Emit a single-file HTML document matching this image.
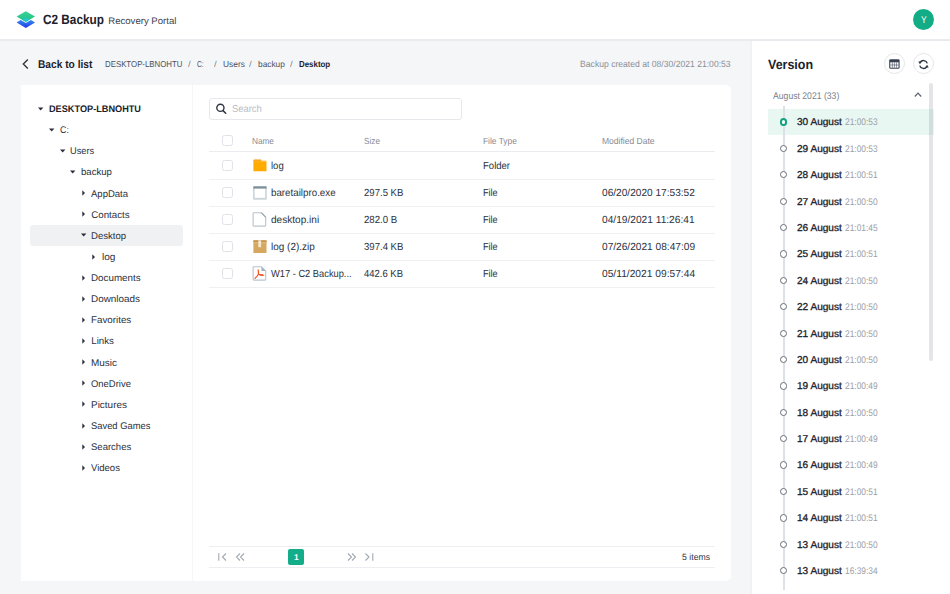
<!DOCTYPE html>
<html><head><meta charset="utf-8"><title>C2 Backup Recovery Portal</title>
<style>
html,body{margin:0;padding:0;}
body{width:950px;height:594px;position:relative;overflow:hidden;background:#f5f6f8;font-family:"Liberation Sans",Arial,sans-serif;text-rendering:geometricPrecision;}
.t{position:absolute;line-height:1;white-space:nowrap;}
.b{position:absolute;}
</style></head><body>
<div class="b" style="left:0px;top:0px;width:950px;height:39px;background:#fff"></div>
<div class="b" style="left:0px;top:39px;width:950px;height:2px;background:#e9ebef"></div>
<svg class="b" style="left:12px;top:6px;" width="28" height="26" viewBox="0 0 28 26">
<defs><linearGradient id="lg1" x1="0" y1="0" x2="0" y2="1"><stop offset="0" stop-color="#3ab4f2"/><stop offset="1" stop-color="#2233e4"/></linearGradient>
<linearGradient id="lg2" x1="0" y1="0" x2="0" y2="1"><stop offset="0" stop-color="#3bd293"/><stop offset="1" stop-color="#1fbf86"/></linearGradient></defs>
<path d="M4.6 16.4 L13.8 10.8 L23 16.4 L13.8 22.1 Z" fill="url(#lg1)"/>
<path d="M4.6 10.5 L13.8 5.2 L23 10.5 L13.8 16 Z" fill="url(#lg2)" stroke="#fff" stroke-width="1.6" stroke-linejoin="round" paint-order="stroke"/>
<path d="M10.2 13.7 L13.8 11 L17.4 13.7 L13.8 16 Z" fill="#27c6c6"/>
</svg>
<div class="t" style="top:13px;font-size:13.43px;color:#1c212b;font-weight:700;transform:scaleX(0.8786);transform-origin:left center;left:42.60px;">C2 Backup</div>
<div class="t" style="top:17px;font-size:9.57px;color:#3c4250;left:108.30px;">Recovery Portal</div>
<div class="b" style="left:913.1px;top:9.1px;width:21.1px;height:21.1px;background:#12ac86;border-radius:50%"></div>
<div class="t" style="top:16px;font-size:10.0px;color:#fff;transform:scaleX(0.8600);transform-origin:left center;left:920.50px;">Y</div>
<div class="b" style="left:0px;top:41px;width:752px;height:553px;background:#f5f6f8"></div>
<svg class="b" style="left:21px;top:58px;" width="10" height="12" viewBox="0 0 10 12"><path d="M6.8 1.5 L2.3 6 L6.8 10.5" fill="none" stroke="#2a2f3a" stroke-width="1.3"/></svg>
<div class="t" style="top:60px;font-size:11.29px;color:#1c212b;font-weight:700;transform:scaleX(0.9033);transform-origin:left center;left:37.70px;">Back to list</div>
<div class="t" style="top:60px;font-size:8.57px;color:#4a505c;transform:scaleX(0.9165);transform-origin:left center;left:105.00px;">DESKTOP-LBNOHTU</div>
<div class="t" style="top:60px;font-size:8.57px;color:#7d828b;transform:scaleX(1.1333);transform-origin:left center;left:187.60px;">/</div>
<div class="t" style="top:60px;font-size:8.57px;color:#4a505c;transform:scaleX(0.7875);transform-origin:left center;left:197.30px;">C:</div>
<div class="t" style="top:60px;font-size:8.57px;color:#7d828b;transform:scaleX(1.1333);transform-origin:left center;left:214.00px;">/</div>
<div class="t" style="top:60px;font-size:8.57px;color:#4a505c;transform:scaleX(0.9773);transform-origin:left center;left:223.00px;">Users</div>
<div class="t" style="top:60px;font-size:8.57px;color:#7d828b;transform:scaleX(1.1333);transform-origin:left center;left:249.30px;">/</div>
<div class="t" style="top:60px;font-size:8.57px;color:#4a505c;transform:scaleX(0.9714);transform-origin:left center;left:258.00px;">backup</div>
<div class="t" style="top:60px;font-size:8.57px;color:#7d828b;transform:scaleX(1.1333);transform-origin:left center;left:290.40px;">/</div>
<div class="t" style="top:60px;font-size:8.57px;color:#1c212b;font-weight:700;transform:scaleX(0.9235);transform-origin:left center;left:299.00px;">Desktop</div>
<div class="t" style="top:60px;font-size:9.0px;color:#8a8f99;transform:scaleX(0.9551);transform-origin:right center;right:219.30px;">Backup created at 08/30/2021 21:00:53</div>
<div class="b" style="left:20.7px;top:85px;width:710.3px;height:495.7px;background:#fff;border-radius:0 5px 5px 0"></div>
<div class="b" style="left:192.2px;top:85px;width:1px;height:496px;background:#f4f5f7"></div>
<div class="b" style="left:30.4px;top:225.2px;width:153px;height:20.6px;background:#f0f1f3;border-radius:3px"></div>
<svg class="b" style="left:38.4px;top:106.64999999999999px;" width="6" height="4" viewBox="0 0 6 4"><path d="M0 0.6 L5.4 0.6 L2.7 3.4 Z" fill="#2a2f3a"/></svg>
<div class="t" style="top:105px;font-size:9.57px;color:#1c212b;font-weight:700;transform:scaleX(0.9583);transform-origin:left center;left:48.90px;">DESKTOP-LBNOHTU</div>
<svg class="b" style="left:49.0px;top:127.78px;" width="6" height="4" viewBox="0 0 6 4"><path d="M0 0.6 L5.4 0.6 L2.7 3.4 Z" fill="#2a2f3a"/></svg>
<div class="t" style="top:126px;font-size:9.71px;color:#2c313c;transform:scaleX(0.9111);transform-origin:left center;left:59.50px;">C:</div>
<svg class="b" style="left:59.599999999999994px;top:148.91px;" width="6" height="4" viewBox="0 0 6 4"><path d="M0 0.6 L5.4 0.6 L2.7 3.4 Z" fill="#2a2f3a"/></svg>
<div class="t" style="top:147px;font-size:9.71px;color:#2c313c;transform:scaleX(0.9500);transform-origin:left center;left:70.10px;">Users</div>
<svg class="b" style="left:70.19999999999999px;top:170.04px;" width="6" height="4" viewBox="0 0 6 4"><path d="M0 0.6 L5.4 0.6 L2.7 3.4 Z" fill="#2a2f3a"/></svg>
<div class="t" style="top:168px;font-size:9.71px;color:#2c313c;transform:scaleX(0.9875);transform-origin:left center;left:80.70px;">backup</div>
<svg class="b" style="left:81.8px;top:190.17px;" width="4" height="6" viewBox="0 0 4 6"><path d="M0.3 0.3 L3 3 L0.3 5.7 Z" fill="#2a2f3a"/></svg>
<div class="t" style="top:190px;font-size:9.71px;color:#2c313c;transform:scaleX(0.9816);transform-origin:left center;left:91.30px;">AppData</div>
<svg class="b" style="left:81.8px;top:211.29999999999998px;" width="4" height="6" viewBox="0 0 4 6"><path d="M0.3 0.3 L3 3 L0.3 5.7 Z" fill="#2a2f3a"/></svg>
<div class="t" style="top:211px;font-size:9.71px;color:#2c313c;left:91.30px;">Contacts</div>
<svg class="b" style="left:80.8px;top:233.42999999999998px;" width="6" height="4" viewBox="0 0 6 4"><path d="M0 0.6 L5.4 0.6 L2.7 3.4 Z" fill="#2a2f3a"/></svg>
<div class="t" style="top:232px;font-size:9.71px;color:#2c313c;transform:scaleX(0.9861);transform-origin:left center;left:91.30px;">Desktop</div>
<svg class="b" style="left:92.4px;top:253.56px;" width="4" height="6" viewBox="0 0 4 6"><path d="M0.3 0.3 L3 3 L0.3 5.7 Z" fill="#2a2f3a"/></svg>
<div class="t" style="top:253px;font-size:9.71px;color:#2c313c;transform:scaleX(1.0385);transform-origin:left center;left:101.90px;">log</div>
<svg class="b" style="left:81.8px;top:274.69px;" width="4" height="6" viewBox="0 0 4 6"><path d="M0.3 0.3 L3 3 L0.3 5.7 Z" fill="#2a2f3a"/></svg>
<div class="t" style="top:274px;font-size:9.71px;color:#2c313c;transform:scaleX(1.0102);transform-origin:left center;left:91.30px;">Documents</div>
<svg class="b" style="left:81.8px;top:295.82px;" width="4" height="6" viewBox="0 0 4 6"><path d="M0.3 0.3 L3 3 L0.3 5.7 Z" fill="#2a2f3a"/></svg>
<div class="t" style="top:295px;font-size:9.71px;color:#2c313c;transform:scaleX(1.0208);transform-origin:left center;left:91.30px;">Downloads</div>
<svg class="b" style="left:81.8px;top:316.95px;" width="4" height="6" viewBox="0 0 4 6"><path d="M0.3 0.3 L3 3 L0.3 5.7 Z" fill="#2a2f3a"/></svg>
<div class="t" style="top:316px;font-size:9.71px;color:#2c313c;transform:scaleX(1.0075);transform-origin:left center;left:91.30px;">Favorites</div>
<svg class="b" style="left:81.8px;top:338.08px;" width="4" height="6" viewBox="0 0 4 6"><path d="M0.3 0.3 L3 3 L0.3 5.7 Z" fill="#2a2f3a"/></svg>
<div class="t" style="top:337px;font-size:9.71px;color:#2c313c;left:91.30px;">Links</div>
<svg class="b" style="left:81.8px;top:359.21000000000004px;" width="4" height="6" viewBox="0 0 4 6"><path d="M0.3 0.3 L3 3 L0.3 5.7 Z" fill="#2a2f3a"/></svg>
<div class="t" style="top:359px;font-size:9.71px;color:#2c313c;transform:scaleX(1.0269);transform-origin:left center;left:91.30px;">Music</div>
<svg class="b" style="left:81.8px;top:380.34000000000003px;" width="4" height="6" viewBox="0 0 4 6"><path d="M0.3 0.3 L3 3 L0.3 5.7 Z" fill="#2a2f3a"/></svg>
<div class="t" style="top:380px;font-size:9.71px;color:#2c313c;transform:scaleX(0.9732);transform-origin:left center;left:91.30px;">OneDrive</div>
<svg class="b" style="left:81.8px;top:401.47px;" width="4" height="6" viewBox="0 0 4 6"><path d="M0.3 0.3 L3 3 L0.3 5.7 Z" fill="#2a2f3a"/></svg>
<div class="t" style="top:401px;font-size:9.71px;color:#2c313c;transform:scaleX(1.0257);transform-origin:left center;left:91.30px;">Pictures</div>
<svg class="b" style="left:81.8px;top:422.6px;" width="4" height="6" viewBox="0 0 4 6"><path d="M0.3 0.3 L3 3 L0.3 5.7 Z" fill="#2a2f3a"/></svg>
<div class="t" style="top:422px;font-size:9.71px;color:#2c313c;transform:scaleX(0.9661);transform-origin:left center;left:91.30px;">Saved Games</div>
<svg class="b" style="left:81.8px;top:443.73px;" width="4" height="6" viewBox="0 0 4 6"><path d="M0.3 0.3 L3 3 L0.3 5.7 Z" fill="#2a2f3a"/></svg>
<div class="t" style="top:443px;font-size:9.71px;color:#2c313c;transform:scaleX(0.9805);transform-origin:left center;left:91.30px;">Searches</div>
<svg class="b" style="left:81.8px;top:464.86px;" width="4" height="6" viewBox="0 0 4 6"><path d="M0.3 0.3 L3 3 L0.3 5.7 Z" fill="#2a2f3a"/></svg>
<div class="t" style="top:464px;font-size:9.71px;color:#2c313c;transform:scaleX(0.9800);transform-origin:left center;left:91.30px;">Videos</div>
<div class="b" style="left:209px;top:98px;width:253px;height:22px;border:1px solid #e6e8ec;border-radius:3px;box-sizing:border-box"></div>
<svg class="b" style="left:215px;top:103px;" width="13" height="13" viewBox="0 0 13 13"><circle cx="5.4" cy="4.8" r="3.6" fill="none" stroke="#2f3542" stroke-width="1.4"/><path d="M8 7.6 L10.7 10.3" stroke="#2f3542" stroke-width="1.5" stroke-linecap="round"/></svg>
<div class="t" style="top:105px;font-size:10.14px;color:#b9bdc4;transform:scaleX(0.9281);transform-origin:left center;left:232.30px;">Search</div>
<div class="b" style="left:222.3px;top:135.2px;width:10.4px;height:10.4px;border:1px solid #dfe2e7;border-radius:2.5px;box-sizing:border-box"></div>
<div class="t" style="top:137px;font-size:8.86px;color:#868b95;transform:scaleX(0.9292);transform-origin:left center;left:251.70px;">Name</div>
<div class="t" style="top:137px;font-size:8.86px;color:#868b95;transform:scaleX(0.9292);transform-origin:left center;left:364.00px;">Size</div>
<div class="t" style="top:137px;font-size:8.86px;color:#868b95;transform:scaleX(0.9472);transform-origin:left center;left:482.70px;">File Type</div>
<div class="t" style="top:137px;font-size:8.86px;color:#868b95;transform:scaleX(0.9636);transform-origin:left center;left:602.10px;">Modified Date</div>
<div class="b" style="left:209px;top:151.3px;width:506px;height:1.2px;background:#eaecef"></div>
<div class="b" style="left:222.3px;top:160.3px;width:10.4px;height:10.4px;border:1px solid #dfe2e7;border-radius:2.5px;box-sizing:border-box"></div>
<div class="t" style="top:162px;font-size:10.29px;color:#2c313c;transform:scaleX(0.9286);transform-origin:left center;left:271.30px;">log</div>
<div class="t" style="top:162px;font-size:10.29px;color:#2c313c;transform:scaleX(0.9276);transform-origin:left center;left:483.30px;">Folder</div>
<div class="b" style="left:209px;top:178.9px;width:506px;height:1px;background:#eef0f2"></div>
<svg class="b" style="left:252.5px;top:159.2px;" width="14" height="13" viewBox="0 0 14 13"><rect x="0.5" y="0.5" width="7.9" height="2.6" rx="0.7" fill="#ff9100"/><rect x="0.4" y="1.6" width="13.1" height="1.2" fill="#ffc04d"/><rect x="0.4" y="2.4" width="13.1" height="9.9" rx="0.6" fill="#ffab00"/></svg>
<div class="b" style="left:222.3px;top:187.3px;width:10.4px;height:10.4px;border:1px solid #dfe2e7;border-radius:2.5px;box-sizing:border-box"></div>
<div class="t" style="top:189px;font-size:10.29px;color:#2c313c;transform:scaleX(0.9500);transform-origin:left center;left:271.30px;">baretailpro.exe</div>
<div class="t" style="top:189px;font-size:10.29px;color:#2c313c;transform:scaleX(0.9310);transform-origin:left center;left:364.40px;">297.5 KB</div>
<div class="t" style="top:189px;font-size:10.29px;color:#2c313c;transform:scaleX(0.8824);transform-origin:left center;left:483.30px;">File</div>
<div class="t" style="top:189px;font-size:10.29px;color:#2c313c;transform:scaleX(0.9840);transform-origin:left center;left:602.00px;">06/20/2020 17:53:52</div>
<div class="b" style="left:209px;top:205.9px;width:506px;height:1px;background:#eef0f2"></div>
<svg class="b" style="left:252.5px;top:185.7px;" width="14" height="14" viewBox="0 0 14 14"><rect x="0.9" y="0.9" width="12.1" height="12" fill="#fff" stroke="#b3c0c8" stroke-width="1.1"/><rect x="0.4" y="0.4" width="13.1" height="2.2" fill="#7c8f9b"/><rect x="0.4" y="11.8" width="13.1" height="1.4" fill="#cdd6db"/></svg>
<div class="b" style="left:222.3px;top:214.3px;width:10.4px;height:10.4px;border:1px solid #dfe2e7;border-radius:2.5px;box-sizing:border-box"></div>
<div class="t" style="top:216px;font-size:10.29px;color:#2c313c;transform:scaleX(0.9796);transform-origin:left center;left:271.30px;">desktop.ini</div>
<div class="t" style="top:216px;font-size:10.29px;color:#2c313c;transform:scaleX(0.9400);transform-origin:left center;left:364.40px;">282.0 B</div>
<div class="t" style="top:216px;font-size:10.29px;color:#2c313c;transform:scaleX(0.8824);transform-origin:left center;left:483.30px;">File</div>
<div class="t" style="top:216px;font-size:10.29px;color:#2c313c;transform:scaleX(0.9892);transform-origin:left center;left:602.00px;">04/19/2021 11:26:41</div>
<div class="b" style="left:209px;top:232.9px;width:506px;height:1px;background:#eef0f2"></div>
<svg class="b" style="left:252px;top:212.3px;" width="15" height="15" viewBox="0 0 15 15"><path d="M1.1 1.6 Q1.1 0.7 2 0.7 L9.3 0.7 L13.7 5.1 L13.7 13.3 Q13.7 14.1 12.9 14.1 L2 14.1 Q1.1 14.1 1.1 13.3 Z" fill="#fff" stroke="#b7c3cb" stroke-width="1.1"/><path d="M9.3 0.7 L13.7 5.1" stroke="#9aa9b3" stroke-width="1.2"/></svg>
<div class="b" style="left:222.3px;top:241.3px;width:10.4px;height:10.4px;border:1px solid #dfe2e7;border-radius:2.5px;box-sizing:border-box"></div>
<div class="t" style="top:243px;font-size:10.29px;color:#2c313c;transform:scaleX(0.9689);transform-origin:left center;left:271.30px;">log (2).zip</div>
<div class="t" style="top:243px;font-size:10.29px;color:#2c313c;transform:scaleX(0.9310);transform-origin:left center;left:364.40px;">397.4 KB</div>
<div class="t" style="top:243px;font-size:10.29px;color:#2c313c;transform:scaleX(0.8824);transform-origin:left center;left:483.30px;">File</div>
<div class="t" style="top:243px;font-size:10.29px;color:#2c313c;transform:scaleX(0.9862);transform-origin:left center;left:602.00px;">07/26/2021 08:47:09</div>
<div class="b" style="left:209px;top:259.90000000000003px;width:506px;height:1px;background:#eef0f2"></div>
<svg class="b" style="left:252.5px;top:239.8px;" width="14" height="14" viewBox="0 0 14 14"><rect x="0.4" y="0.4" width="13.1" height="12.6" fill="#d6a75f"/><rect x="0.4" y="0.4" width="13.1" height="1.9" fill="#c48f47"/><rect x="0.4" y="2.3" width="13.1" height="0.8" fill="#e6c28a"/><rect x="5.3" y="0.4" width="2.8" height="6.8" fill="#f6e8d2"/></svg>
<div class="b" style="left:222.3px;top:268.3px;width:10.4px;height:10.4px;border:1px solid #dfe2e7;border-radius:2.5px;box-sizing:border-box"></div>
<div class="t" style="top:270px;font-size:10.29px;color:#2c313c;transform:scaleX(0.9045);transform-origin:left center;left:271.30px;">W17 - C2 Backup...</div>
<div class="t" style="top:270px;font-size:10.29px;color:#2c313c;transform:scaleX(0.9214);transform-origin:left center;left:364.40px;">442.6 KB</div>
<div class="t" style="top:270px;font-size:10.29px;color:#2c313c;transform:scaleX(0.8824);transform-origin:left center;left:483.30px;">File</div>
<div class="t" style="top:270px;font-size:10.29px;color:#2c313c;transform:scaleX(0.9946);transform-origin:left center;left:602.00px;">05/11/2021 09:57:44</div>
<div class="b" style="left:209px;top:286.90000000000003px;width:506px;height:1px;background:#eef0f2"></div>
<svg class="b" style="left:252px;top:266.3px;" width="15" height="15" viewBox="0 0 15 15"><path d="M1.1 1.6 Q1.1 0.7 2 0.7 L9.3 0.7 L13.7 5.1 L13.7 13.3 Q13.7 14.1 12.9 14.1 L2 14.1 Q1.1 14.1 1.1 13.3 Z" fill="#fff" stroke="#b7c3cb" stroke-width="1.1"/><path d="M9.3 0.7 L13.7 5.1 L9.6 5.1 Z" fill="#a3b1ba"/><path d="M6.2 3.8 L6.5 7.9 Q5.6 10.3 3.1 12.3 M6.5 7.9 Q8.3 9.9 11.2 9.2 Q9.8 8.2 7.3 8.6" fill="none" stroke="#f4511e" stroke-width="1.2" stroke-linecap="round"/></svg>
<div class="b" style="left:209px;top:546px;width:506px;height:1px;background:#eceef1"></div>
<div class="b" style="left:209px;top:567px;width:506px;height:1px;background:#eceef1"></div>
<svg class="b" style="left:217px;top:552px;" width="12" height="10" viewBox="0 0 12 10"><path d="M1.8 1.3 L1.8 8.7" stroke="#a3a8b1" stroke-width="1.1"/><path d="M9 1.5 L5.5 5 L9 8.5" fill="none" stroke="#a3a8b1" stroke-width="1.1"/></svg>
<svg class="b" style="left:234px;top:552px;" width="12" height="10" viewBox="0 0 12 10"><path d="M6 1.5 L2.5 5 L6 8.5 M10 1.5 L6.5 5 L10 8.5" fill="none" stroke="#a3a8b1" stroke-width="1.1"/></svg>
<div class="b" style="left:288px;top:549px;width:16px;height:16px;background:#13ad8a;border-radius:2px"></div>
<div class="t" style="top:553px;font-size:8.43px;color:#fff;font-weight:700;left:294.00px;">1</div>
<svg class="b" style="left:346px;top:552px;" width="12" height="10" viewBox="0 0 12 10"><path d="M2 1.5 L5.5 5 L2 8.5 M6 1.5 L9.5 5 L6 8.5" fill="none" stroke="#a3a8b1" stroke-width="1.1"/></svg>
<svg class="b" style="left:363px;top:552px;" width="12" height="10" viewBox="0 0 12 10"><path d="M2.5 1.5 L6 5 L2.5 8.5" fill="none" stroke="#a3a8b1" stroke-width="1.1"/><path d="M9.8 1.3 L9.8 8.7" stroke="#a3a8b1" stroke-width="1.1"/></svg>
<div class="t" style="top:553px;font-size:9.0px;color:#2c313c;transform:scaleX(0.9621);transform-origin:right center;right:240.30px;">5 items</div>
<div class="b" style="left:752px;top:41px;width:198px;height:553px;background:#fff;box-shadow:-1px 0 2px rgba(40,50,70,0.035)"></div>
<div class="t" style="top:58px;font-size:13.43px;color:#1c212b;font-weight:700;transform:scaleX(0.9292);transform-origin:left center;left:768.20px;">Version</div>
<div class="b" style="left:884px;top:53.3px;width:21px;height:21px;border:1px solid #e4e6ea;border-radius:50%;box-sizing:border-box"></div>
<div class="b" style="left:913px;top:53.3px;width:21px;height:21px;border:1px solid #e4e6ea;border-radius:50%;box-sizing:border-box"></div>
<svg class="b" style="left:889px;top:59px;" width="11" height="10" viewBox="0 0 11 10"><rect x="0.2" y="0.2" width="10.4" height="9.6" rx="1.4" fill="#394050"/><rect x="1.3" y="3.3" width="8.2" height="5.4" fill="#fff"/><path d="M3.35 3.3 V8.7 M5.4 3.3 V8.7 M7.45 3.3 V8.7 M1.3 6 H9.5" stroke="#394050" stroke-width="0.55"/></svg>
<svg class="b" style="left:918px;top:58.5px;" width="11" height="11" viewBox="0 0 11 11"><path d="M9.3 4.4 A4 4 0 0 0 2.1 3.4" fill="none" stroke="#2f3542" stroke-width="1.35"/><path d="M0.3 2.4 L3.9 2.6 L1.9 5.3 Z" fill="#2f3542"/><path d="M1.7 6.6 A4 4 0 0 0 8.9 7.6" fill="none" stroke="#2f3542" stroke-width="1.35"/><path d="M10.7 8.6 L7.1 8.4 L9.1 5.7 Z" fill="#2f3542"/></svg>
<div class="t" style="top:92px;font-size:9.71px;color:#7b808a;transform:scaleX(0.8907);transform-origin:left center;left:773.40px;">August 2021 (33)</div>
<svg class="b" style="left:913px;top:91px;" width="10" height="7" viewBox="0 0 10 7"><path d="M1.8 5.5 L5 2.2 L8.2 5.5" fill="none" stroke="#5a616d" stroke-width="1.2"/></svg>
<div class="b" style="left:768.2px;top:108.8px;width:165.4px;height:25.9px;background:#e9f7f3"></div>
<div class="b" style="left:783.0px;top:106px;width:1.6px;height:484px;background:#dde0e5"></div>
<div class="b" style="left:928.9px;top:82.7px;width:3.9px;height:278px;background:rgba(35,45,65,0.12);border-radius:2px"></div>
<div class="b" style="left:780.1px;top:118.40px;width:7.3px;height:7.3px;border:2px solid #11a37e;border-radius:50%;background:#fff;box-sizing:border-box"></div>
<div class="t" style="top:118px;font-size:10.0px;color:#1c212b;transform:scaleX(1.0067);transform-origin:left center;left:796.80px;-webkit-text-stroke:0.3px #1c212b;">30 August</div>
<div class="t" style="top:118px;font-size:9.57px;color:#9a9ea6;transform:scaleX(0.8757);transform-origin:left center;left:845.30px;">21:00:53</div>
<div class="b" style="left:780.1px;top:144.79px;width:7.3px;height:7.3px;border:1.7px solid #676d79;border-radius:50%;background:#fff;box-sizing:border-box"></div>
<div class="t" style="top:145px;font-size:10.0px;color:#1c212b;transform:scaleX(1.0067);transform-origin:left center;left:796.80px;-webkit-text-stroke:0.3px #1c212b;">29 August</div>
<div class="t" style="top:145px;font-size:9.57px;color:#9a9ea6;transform:scaleX(0.8757);transform-origin:left center;left:845.30px;">21:00:53</div>
<div class="b" style="left:780.1px;top:171.18px;width:7.3px;height:7.3px;border:1.7px solid #676d79;border-radius:50%;background:#fff;box-sizing:border-box"></div>
<div class="t" style="top:171px;font-size:10.0px;color:#1c212b;transform:scaleX(1.0067);transform-origin:left center;left:796.80px;-webkit-text-stroke:0.3px #1c212b;">28 August</div>
<div class="t" style="top:171px;font-size:9.57px;color:#9a9ea6;transform:scaleX(0.8757);transform-origin:left center;left:845.30px;">21:00:51</div>
<div class="b" style="left:780.1px;top:197.57px;width:7.3px;height:7.3px;border:1.7px solid #676d79;border-radius:50%;background:#fff;box-sizing:border-box"></div>
<div class="t" style="top:198px;font-size:10.0px;color:#1c212b;transform:scaleX(1.0067);transform-origin:left center;left:796.80px;-webkit-text-stroke:0.3px #1c212b;">27 August</div>
<div class="t" style="top:198px;font-size:9.57px;color:#9a9ea6;transform:scaleX(0.8757);transform-origin:left center;left:845.30px;">21:00:50</div>
<div class="b" style="left:780.1px;top:223.96px;width:7.3px;height:7.3px;border:1.7px solid #676d79;border-radius:50%;background:#fff;box-sizing:border-box"></div>
<div class="t" style="top:224px;font-size:10.0px;color:#1c212b;transform:scaleX(1.0067);transform-origin:left center;left:796.80px;-webkit-text-stroke:0.3px #1c212b;">26 August</div>
<div class="t" style="top:224px;font-size:9.57px;color:#9a9ea6;transform:scaleX(0.8757);transform-origin:left center;left:845.30px;">21:01:45</div>
<div class="b" style="left:780.1px;top:250.35px;width:7.3px;height:7.3px;border:1.7px solid #676d79;border-radius:50%;background:#fff;box-sizing:border-box"></div>
<div class="t" style="top:250px;font-size:10.0px;color:#1c212b;transform:scaleX(1.0067);transform-origin:left center;left:796.80px;-webkit-text-stroke:0.3px #1c212b;">25 August</div>
<div class="t" style="top:250px;font-size:9.57px;color:#9a9ea6;transform:scaleX(0.8757);transform-origin:left center;left:845.30px;">21:00:51</div>
<div class="b" style="left:780.1px;top:276.74px;width:7.3px;height:7.3px;border:1.7px solid #676d79;border-radius:50%;background:#fff;box-sizing:border-box"></div>
<div class="t" style="top:277px;font-size:10.0px;color:#1c212b;transform:scaleX(1.0067);transform-origin:left center;left:796.80px;-webkit-text-stroke:0.3px #1c212b;">24 August</div>
<div class="t" style="top:277px;font-size:9.57px;color:#9a9ea6;transform:scaleX(0.8757);transform-origin:left center;left:845.30px;">21:00:50</div>
<div class="b" style="left:780.1px;top:303.13px;width:7.3px;height:7.3px;border:1.7px solid #676d79;border-radius:50%;background:#fff;box-sizing:border-box"></div>
<div class="t" style="top:303px;font-size:10.0px;color:#1c212b;transform:scaleX(1.0067);transform-origin:left center;left:796.80px;-webkit-text-stroke:0.3px #1c212b;">22 August</div>
<div class="t" style="top:303px;font-size:9.57px;color:#9a9ea6;transform:scaleX(0.8757);transform-origin:left center;left:845.30px;">21:00:50</div>
<div class="b" style="left:780.1px;top:329.52px;width:7.3px;height:7.3px;border:1.7px solid #676d79;border-radius:50%;background:#fff;box-sizing:border-box"></div>
<div class="t" style="top:330px;font-size:10.0px;color:#1c212b;transform:scaleX(1.0067);transform-origin:left center;left:796.80px;-webkit-text-stroke:0.3px #1c212b;">21 August</div>
<div class="t" style="top:330px;font-size:9.57px;color:#9a9ea6;transform:scaleX(0.8757);transform-origin:left center;left:845.30px;">21:00:50</div>
<div class="b" style="left:780.1px;top:355.91px;width:7.3px;height:7.3px;border:1.7px solid #676d79;border-radius:50%;background:#fff;box-sizing:border-box"></div>
<div class="t" style="top:356px;font-size:10.0px;color:#1c212b;transform:scaleX(1.0067);transform-origin:left center;left:796.80px;-webkit-text-stroke:0.3px #1c212b;">20 August</div>
<div class="t" style="top:356px;font-size:9.57px;color:#9a9ea6;transform:scaleX(0.8757);transform-origin:left center;left:845.30px;">21:00:50</div>
<div class="b" style="left:780.1px;top:382.30px;width:7.3px;height:7.3px;border:1.7px solid #676d79;border-radius:50%;background:#fff;box-sizing:border-box"></div>
<div class="t" style="top:382px;font-size:10.0px;color:#1c212b;transform:scaleX(1.0067);transform-origin:left center;left:796.80px;-webkit-text-stroke:0.3px #1c212b;">19 August</div>
<div class="t" style="top:382px;font-size:9.57px;color:#9a9ea6;transform:scaleX(0.8757);transform-origin:left center;left:845.30px;">21:00:49</div>
<div class="b" style="left:780.1px;top:408.69px;width:7.3px;height:7.3px;border:1.7px solid #676d79;border-radius:50%;background:#fff;box-sizing:border-box"></div>
<div class="t" style="top:409px;font-size:10.0px;color:#1c212b;transform:scaleX(1.0067);transform-origin:left center;left:796.80px;-webkit-text-stroke:0.3px #1c212b;">18 August</div>
<div class="t" style="top:409px;font-size:9.57px;color:#9a9ea6;transform:scaleX(0.8757);transform-origin:left center;left:845.30px;">21:00:50</div>
<div class="b" style="left:780.1px;top:435.08px;width:7.3px;height:7.3px;border:1.7px solid #676d79;border-radius:50%;background:#fff;box-sizing:border-box"></div>
<div class="t" style="top:435px;font-size:10.0px;color:#1c212b;transform:scaleX(1.0067);transform-origin:left center;left:796.80px;-webkit-text-stroke:0.3px #1c212b;">17 August</div>
<div class="t" style="top:435px;font-size:9.57px;color:#9a9ea6;transform:scaleX(0.8757);transform-origin:left center;left:845.30px;">21:00:49</div>
<div class="b" style="left:780.1px;top:461.47px;width:7.3px;height:7.3px;border:1.7px solid #676d79;border-radius:50%;background:#fff;box-sizing:border-box"></div>
<div class="t" style="top:461px;font-size:10.0px;color:#1c212b;transform:scaleX(1.0067);transform-origin:left center;left:796.80px;-webkit-text-stroke:0.3px #1c212b;">16 August</div>
<div class="t" style="top:461px;font-size:9.57px;color:#9a9ea6;transform:scaleX(0.8757);transform-origin:left center;left:845.30px;">21:00:49</div>
<div class="b" style="left:780.1px;top:487.86px;width:7.3px;height:7.3px;border:1.7px solid #676d79;border-radius:50%;background:#fff;box-sizing:border-box"></div>
<div class="t" style="top:488px;font-size:10.0px;color:#1c212b;transform:scaleX(1.0067);transform-origin:left center;left:796.80px;-webkit-text-stroke:0.3px #1c212b;">15 August</div>
<div class="t" style="top:488px;font-size:9.57px;color:#9a9ea6;transform:scaleX(0.8757);transform-origin:left center;left:845.30px;">21:00:51</div>
<div class="b" style="left:780.1px;top:514.25px;width:7.3px;height:7.3px;border:1.7px solid #676d79;border-radius:50%;background:#fff;box-sizing:border-box"></div>
<div class="t" style="top:514px;font-size:10.0px;color:#1c212b;transform:scaleX(1.0067);transform-origin:left center;left:796.80px;-webkit-text-stroke:0.3px #1c212b;">14 August</div>
<div class="t" style="top:514px;font-size:9.57px;color:#9a9ea6;transform:scaleX(0.8757);transform-origin:left center;left:845.30px;">21:00:51</div>
<div class="b" style="left:780.1px;top:540.64px;width:7.3px;height:7.3px;border:1.7px solid #676d79;border-radius:50%;background:#fff;box-sizing:border-box"></div>
<div class="t" style="top:541px;font-size:10.0px;color:#1c212b;transform:scaleX(1.0067);transform-origin:left center;left:796.80px;-webkit-text-stroke:0.3px #1c212b;">13 August</div>
<div class="t" style="top:541px;font-size:9.57px;color:#9a9ea6;transform:scaleX(0.8757);transform-origin:left center;left:845.30px;">21:00:50</div>
<div class="b" style="left:780.1px;top:567.03px;width:7.3px;height:7.3px;border:1.7px solid #676d79;border-radius:50%;background:#fff;box-sizing:border-box"></div>
<div class="t" style="top:567px;font-size:10.0px;color:#1c212b;transform:scaleX(1.0067);transform-origin:left center;left:796.80px;-webkit-text-stroke:0.3px #1c212b;">13 August</div>
<div class="t" style="top:567px;font-size:9.57px;color:#9a9ea6;transform:scaleX(0.8757);transform-origin:left center;left:845.30px;">16:39:34</div>
</body></html>
